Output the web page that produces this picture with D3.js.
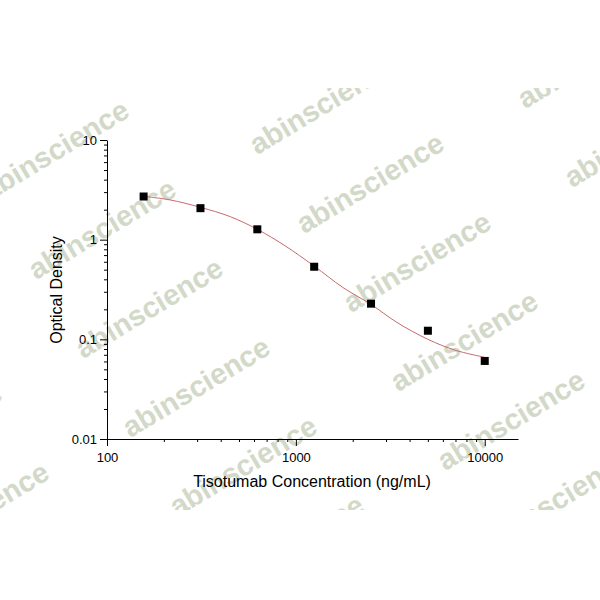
<!DOCTYPE html>
<html>
<head>
<meta charset="utf-8">
<script src="https://cdn.jsdelivr.net/npm/d3@7"></script>
<style>
html,body{margin:0;padding:0;background:#fff;}
svg{display:block;font-family:"Liberation Sans",Arial,sans-serif;}
</style>
</head>
<body>
<svg id="chart" width="600" height="600"></svg>
<script>
// ---- data ----
const concentrations = [156.25, 312.5, 625, 1250, 2500, 5000, 10000];
const opticalDensity = [2.71, 2.07, 1.27, 0.535, 0.228, 0.122, 0.0607];
// fitted curve
const fitX = [156.25, 215, 312.5, 450, 625, 875, 1250, 1775, 2500, 3425, 5000, 6950, 10000];
const fitY = [2.72, 2.51, 2.11, 1.70, 1.27, 0.87, 0.543, 0.331, 0.224, 0.148, 0.100, 0.078, 0.066];
const xTicks = [100, 1000, 10000];
const xTickLabels = ["100", "1000", "10000"];
const yTicks = [0.01, 0.1, 1, 10];
const yTickLabels = ["0.01", "0.1", "1", "10"];
const xTitle = "Tisotumab Concentration (ng/mL)";
const yTitle = "Optical Density";
const watermark = "abinscience";

const svg = d3.select("#chart");

// ---- watermark layer ----
svg.append("defs").append("clipPath").attr("id", "wmclip")
  .append("rect").attr("x", 0).attr("y", 88).attr("width", 600).attr("height", 422);
const wm = svg.append("g").attr("clip-path", "url(#wmclip)");
for (let c = -1; c <= 2; c++) {
  for (let r = -1; r <= 6; r++) {
    const cx = 55 + 268 * c + 47 * r;
    const cy = 150 - 46 * c + 79 * r;
    wm.append("text")
      .attr("transform", `translate(${cx},${cy}) rotate(-31)`)
      .attr("text-anchor", "middle")
      .attr("dominant-baseline", "central")
      .attr("font-size", 29)
      .attr("font-weight", "bold")
      .attr("fill", "#d3d9c8")
      .text(watermark);
  }
}

// ---- scales ----
const x = d3.scaleLog().domain([100, 15000]).range([107, 518]);
const y = d3.scaleLog().domain([0.01, 10]).range([439, 140]);

const minorX = [];
[100, 1000].forEach(d => { for (let k = 2; k <= 9; k++) minorX.push(d * k); });
const minorY = [];
[0.01, 0.1, 1].forEach(d => { for (let k = 2; k <= 9; k++) minorY.push(d * k); });

// x axis
const gx = svg.append("g").attr("transform", "translate(0,439)");
gx.call(d3.axisBottom(x).tickValues(xTicks).tickSizeInner(7).tickSizeOuter(0).tickPadding(7)
  .tickFormat((d, i) => xTickLabels[i]));
gx.append("g").call(d3.axisBottom(x).tickValues(minorX).tickSizeInner(3).tickSizeOuter(0).tickFormat(""))
  .select(".domain").remove();

// y axis
const gy = svg.append("g").attr("transform", "translate(107,0)");
gy.call(d3.axisLeft(y).tickValues(yTicks).tickSizeInner(7).tickSizeOuter(0).tickPadding(3)
  .tickFormat((d, i) => yTickLabels[i]));
gy.append("g").call(d3.axisLeft(y).tickValues(minorY).tickSizeInner(3).tickSizeOuter(0).tickFormat(""))
  .select(".domain").remove();

svg.selectAll(".tick text").attr("font-size", 13).attr("fill", "#000")
  .attr("font-family", "'Liberation Sans', Arial, sans-serif");
svg.selectAll(".domain, .tick line").attr("stroke", "#000").attr("stroke-width", 1);

// titles
svg.append("text").attr("x", 312).attr("y", 487).attr("text-anchor", "middle")
  .attr("font-size", 16).attr("fill", "#000").text(xTitle);
svg.append("text").attr("transform", "translate(62,290) rotate(-90)").attr("text-anchor", "middle")
  .attr("font-size", 16).attr("fill", "#000").text(yTitle);

// ---- fitted curve ----
const line = d3.line().x(d => x(d[0])).y(d => y(d[1])).curve(d3.curveCatmullRom);
svg.append("path").datum(fitX.map((v, i) => [v, fitY[i]]))
  .attr("d", line).attr("fill", "none").attr("stroke", "#c86a6a").attr("stroke-width", 1);

// ---- points ----
const s = 8;
svg.append("g").selectAll("rect").data(concentrations).join("rect")
  .attr("x", d => x(d) - s / 2)
  .attr("y", (d, i) => y(opticalDensity[i]) - s / 2)
  .attr("width", s).attr("height", s).attr("fill", "#000");
</script>
</body>
</html>
